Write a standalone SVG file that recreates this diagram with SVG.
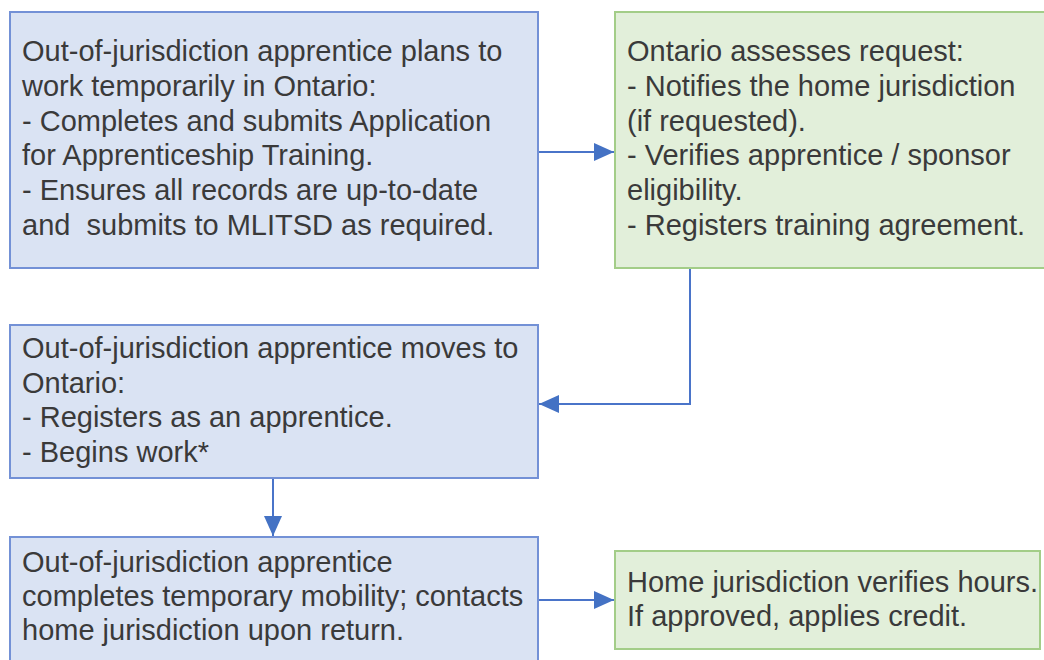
<svg xmlns="http://www.w3.org/2000/svg" width="1044" height="660" viewBox="0 0 1044 660">
  <style>
    .blue { fill: #dae3f3; stroke: #7391d6; stroke-width: 2; }
    .green { fill: #e2efda; stroke: #a3cd88; stroke-width: 2; }
    .t { font-family: "Liberation Sans", Arial, sans-serif; font-size: 29px; fill: #3a3a3a; }
    .conn { fill: none; stroke: #4a74c9; stroke-width: 2; }
  </style>
  <defs>
    <marker id="arr" markerUnits="userSpaceOnUse" markerWidth="22" markerHeight="20" refX="20" refY="9" orient="auto">
      <path d="M0,0 L20,9 L0,18 Z" fill="#4472c4"/>
    </marker>
  </defs>
  <rect width="1044" height="660" fill="#ffffff"/>
  <g id="connectors">
    <path class="conn" d="M538,152 H614" marker-end="url(#arr)"/>
    <path class="conn" d="M690,268 V404 H539" marker-end="url(#arr)"/>
    <path class="conn" d="M273,478 V536" marker-end="url(#arr)"/>
    <path class="conn" d="M538,600 H614" marker-end="url(#arr)"/>
  </g>
  <g id="node1">
    <rect class="blue" x="10" y="12" width="528" height="256"/>
    <text class="t" x="22" y="61">Out-of-jurisdiction apprentice plans to</text>
    <text class="t" x="22" y="96">work temporarily in Ontario:</text>
    <text class="t" x="22" y="131">- Completes and submits Application</text>
    <text class="t" x="22" y="165">for Apprenticeship Training.</text>
    <text class="t" x="22" y="200">- Ensures all records are up-to-date</text>
    <text class="t" x="22" y="235" xml:space="preserve">and  submits to MLITSD as required.</text>
  </g>
  <g id="node2">
    <rect class="green" x="615" y="12" width="440" height="256"/>
    <text class="t" x="627" y="61">Ontario assesses request:</text>
    <text class="t" x="627" y="96">- Notifies the home jurisdiction</text>
    <text class="t" x="627" y="131">(if requested).</text>
    <text class="t" x="627" y="165">- Verifies apprentice / sponsor</text>
    <text class="t" x="627" y="200">eligibility.</text>
    <text class="t" x="627" y="235">- Registers training agreement.</text>
  </g>
  <g id="node3">
    <rect class="blue" x="10" y="325" width="528" height="153"/>
    <text class="t" x="22" y="358">Out-of-jurisdiction apprentice moves to</text>
    <text class="t" x="22" y="393">Ontario:</text>
    <text class="t" x="22" y="427">- Registers as an apprentice.</text>
    <text class="t" x="22" y="462">- Begins work*</text>
  </g>
  <g id="node4">
    <rect class="blue" x="10" y="537" width="528" height="140"/>
    <text class="t" x="22" y="572">Out-of-jurisdiction apprentice</text>
    <text class="t" x="22" y="606">completes temporary mobility; contacts</text>
    <text class="t" x="22" y="640">home jurisdiction upon return.</text>
  </g>
  <g id="node5">
    <rect class="green" x="615" y="551" width="425" height="98"/>
    <text class="t" x="627" y="592">Home jurisdiction verifies hours.</text>
    <text class="t" x="627" y="626">If approved, applies credit.</text>
  </g>
</svg>
